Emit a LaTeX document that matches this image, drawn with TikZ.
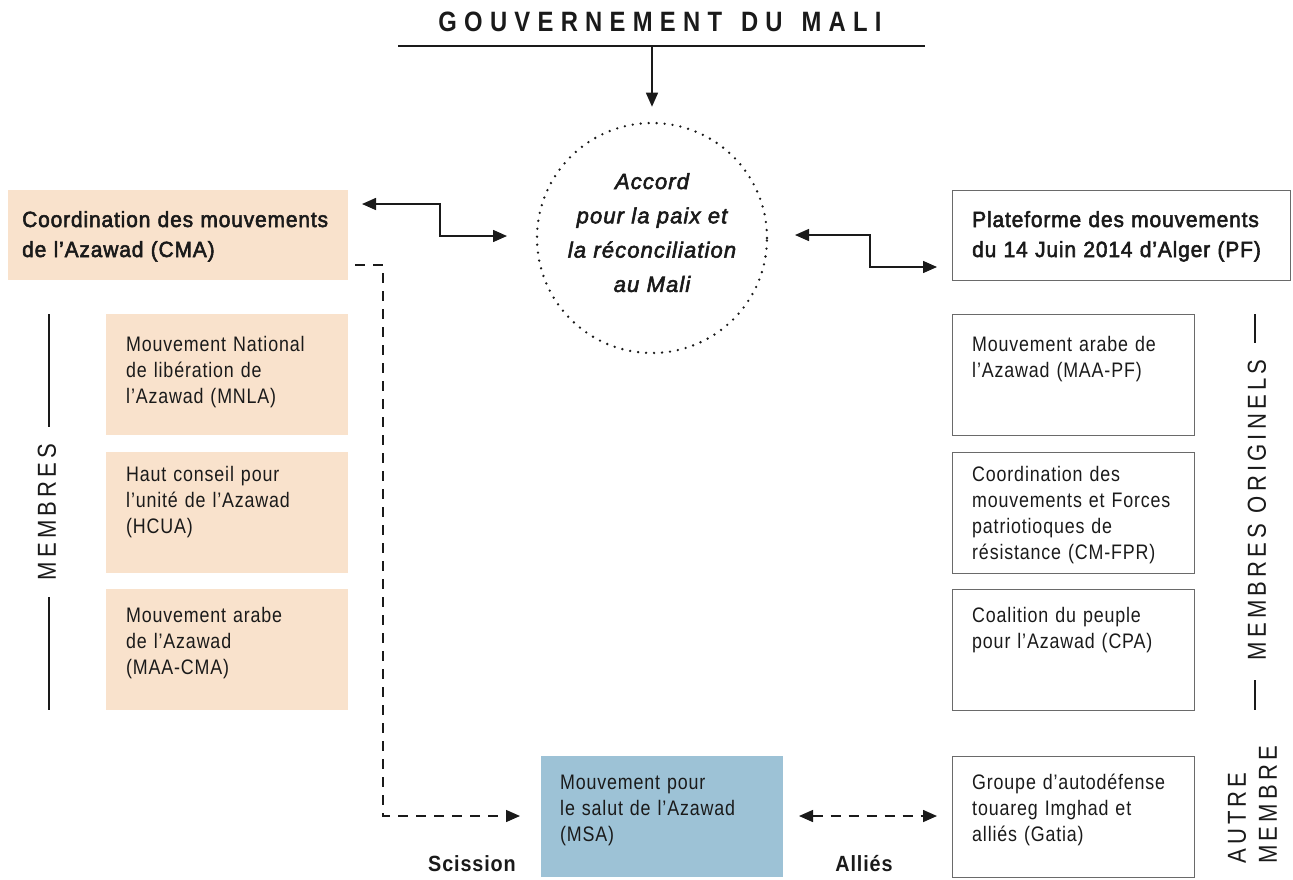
\documentclass[tikz,border=0pt]{standalone}
\usepackage{fontspec}
\setmainfont{Liberation Sans}[FakeStretch=0.85,LetterSpace=4]
\newfontfamily\bfam{Liberation Sans}[FakeStretch=0.95,LetterSpace=4,FakeBold=2.5]
\newfontfamily\itfam{Liberation Sans}[FakeStretch=1.0,LetterSpace=5,FakeBold=2.5]
\newfontfamily\lblfam{Liberation Sans}[FakeStretch=0.9,LetterSpace=4]
\newfontfamily\titlefam{Liberation Sans}[FakeStretch=0.85,LetterSpace=26]
\newfontfamily\sidefam{Liberation Sans}[FakeStretch=0.85,LetterSpace=16]
\usetikzlibrary{arrows.meta}
\definecolor{peach}{HTML}{F9E2CC}
\definecolor{msablue}{HTML}{9DC2D6}
\definecolor{edge}{HTML}{6A6A6A}
\definecolor{ink}{HTML}{1A1A1A}
\begin{document}
\begin{tikzpicture}[x=1pt,y=-1pt,
  box/.style={rectangle, inner sep=0pt, minimum width=242pt, minimum height=121pt, anchor=north west},
  peachbox/.style={box, fill=peach},
  bluebox/.style={box, fill=msablue},
  whitebox/.style={box, draw=edge, line width=1.1pt},
  body/.style={anchor=base west, inner sep=0pt, text width=225pt, align=left, font=\fontsize{21}{26}\selectfont, text=ink},
  head/.style={anchor=base west, inner sep=0pt, text width=330pt, align=left, font=\bfam\fontsize{22}{30}\selectfont, text=ink},
  side/.style={inner sep=0pt, font=\sidefam\fontsize{26}{28}\selectfont, text=ink},
  lbl/.style={inner sep=0pt, font=\lblfam\bfseries\fontsize{22}{24}\selectfont, text=ink},
  conn/.style={line width=1.5pt, draw=ink},
  tip/.style={-{Triangle[length=14pt,width=12pt]}},
  tips/.style={{Triangle[length=14pt,width=12pt]}-{Triangle[length=14pt,width=12pt]}},
  dsh/.style={dash pattern=on 10pt off 8pt}
]
\useasboundingbox (0,0) rectangle (1293,879);

% Title
\node[inner sep=0pt, font=\titlefam\bfseries\fontsize{28}{30}\selectfont, text=ink] (title) at (660,22) {GOUVERNEMENT\hspace{5pt} DU\hspace{5pt} MALI};
\coordinate (gl) at (398,46);
\coordinate (gr) at (925,46);
\coordinate (gm) at (652,46);
\draw[line width=1.3pt, draw=ink] (gl) -- (gr);

% Accord circle
\node[circle, minimum size=230pt, inner sep=0pt, draw=ink, line width=2.6pt, line cap=round, dash pattern=on 0pt off 8pt] (acc) at (652,238) {};
\node[anchor=base, inner sep=0pt, text width=220pt, align=center, font=\itfam\itshape\fontsize{22}{34.3}\selectfont, text=ink] (acctext) at (652,189) {Accord\\pour la paix et\\la réconciliation\\au Mali};
\draw[conn, tip] (gm) -- ([yshift=15pt]acc.north);

% CMA
\node[rectangle, inner sep=0pt, minimum width=340pt, minimum height=90pt, anchor=north west, fill=peach] (cma) at (8,190) {};
\node[head] (cmat) at (22,227) {Coordination des mouvements\\de l’Azawad (CMA)};

% PF
\node[rectangle, inner sep=0pt, minimum width=338pt, minimum height=90pt, anchor=north west, draw=edge, line width=1.1pt] (pf) at (952,190) {};
\node[head] (pft) at (972,227) {Plateforme des mouvements\\du 14 Juin 2014 d’Alger (PF)};

% connectors CMA - Accord - PF
\coordinate (a1) at (362,204);
\coordinate (a2) at (440,204);
\coordinate (a3) at (440,236);
\coordinate (a4) at (507,236);
\draw[conn, tips] (a1) -- (a2) -- (a3) -- (a4);
\coordinate (b1) at (795,235);
\coordinate (b2) at (870,235);
\coordinate (b3) at (870,267);
\coordinate (b4) at (937,267);
\draw[conn, tips] (b1) -- (b2) -- (b3) -- (b4);

% Left members
\node[peachbox] (mnla) at (106,314) {};
\node[body] (mnlat) at (126,351.5) {Mouvement National\\de libération de\\l’Azawad (MNLA)};
\node[peachbox] (hcua) at (106,452) {};
\node[body] (hcuat) at (126,481.5) {Haut conseil pour\\l’unité de l’Azawad\\(HCUA)};
\node[peachbox] (maacma) at (106,589) {};
\node[body] (maacmat) at (126,622.5) {Mouvement arabe\\de l’Azawad\\(MAA-CMA)};

\node[side, rotate=90] (mem) at (47,512) {MEMBRES};
\coordinate (m1) at (49,314);
\coordinate (m2) at (49,427);
\coordinate (m3) at (49,597);
\coordinate (m4) at (49,710);
\draw[line width=1.3pt, draw=ink] (m1) -- (m2);
\draw[line width=1.3pt, draw=ink] (m3) -- (m4);

% Right members
\node[whitebox] (maapf) at (952,314) {};
\node[body] (maapft) at (972,351.5) {Mouvement arabe de\\l’Azawad (MAA-PF)};
\node[whitebox] (cmfpr) at (952,452) {};
\node[body] (cmfprt) at (972,481.5) {Coordination des\\mouvements et Forces\\patriotioques de\\résistance (CM-FPR)};
\node[whitebox] (cpa) at (952,589) {};
\node[body] (cpat) at (972,622.5) {Coalition du peuple\\pour l’Azawad (CPA)};

\node[side, rotate=90] (memo) at (1257,510) {MEMBRES ORIGINELS};
\coordinate (r1) at (1255,314);
\coordinate (r2) at (1255,343);
\coordinate (r3) at (1255,680);
\coordinate (r4) at (1255,710);
\draw[line width=1.3pt, draw=ink] (r1) -- (r2);
\draw[line width=1.3pt, draw=ink] (r3) -- (r4);

% Bottom
\node[bluebox] (msa) at (541,756) {};
\node[body] (msat) at (560,789.5) {Mouvement pour\\le salut de l’Azawad\\(MSA)};
\node[whitebox] (gatia) at (952,756) {};
\node[body] (gatiat) at (972,789.5) {Groupe d’autodéfense\\touareg Imghad et\\alliés (Gatia)};

\node[side, rotate=90, anchor=west] (autre) at (1237,864) {AUTRE};
\node[side, rotate=90, anchor=west] (membre) at (1268,864) {MEMBRE};

% Scission
\coordinate (s1) at (355,265);
\coordinate (s2) at (383,265);
\coordinate (s3) at (383,816);
\coordinate (s4) at (520,816);
\draw[conn, dsh, tip] (s1) -- (s2) -- (s3) -- (s4);
\node[lbl] (scis) at (472,864) {Scission};

% Allies
\coordinate (l1) at (799,816);
\coordinate (l2) at (937,816);
\draw[conn, dsh, tips] (l1) -- (l2);
\node[lbl] (allies) at (864,864) {Alliés};
\end{tikzpicture}
\end{document}
